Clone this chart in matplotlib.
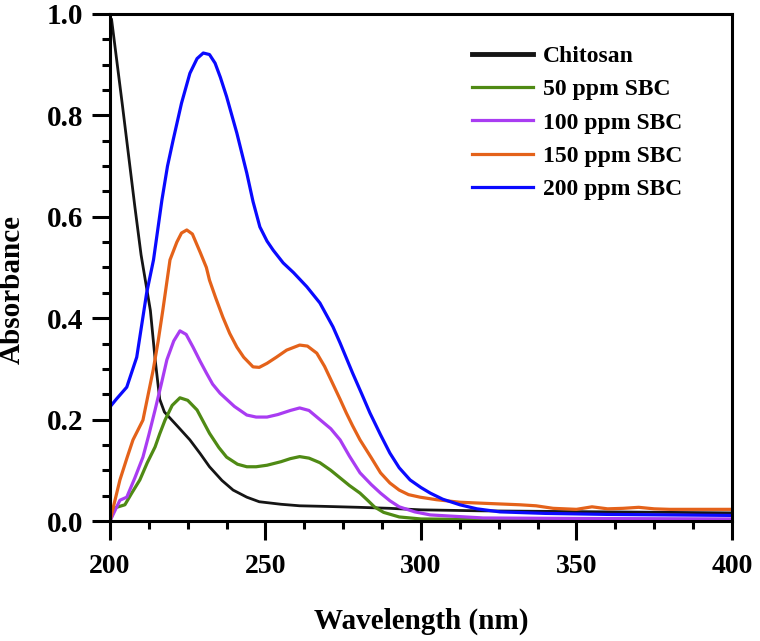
import matplotlib
matplotlib.use('Agg')
import matplotlib.pyplot as plt
from matplotlib.ticker import MultipleLocator

# --- data ---
wl_chit = [200, 200.5, 202, 204, 206, 208, 210, 211.5, 213, 214.5, 216, 217.5, 219.3, 222, 225.7,
           229, 232, 236, 239.6, 244, 248, 255, 261, 268, 280, 290, 300, 320, 340, 360, 380, 400]
A_chit = [0.99, 0.99, 0.917, 0.82, 0.72, 0.62, 0.525, 0.47, 0.415, 0.32, 0.24, 0.215, 0.203, 0.185, 0.16,
          0.133, 0.107, 0.08, 0.061, 0.047, 0.038, 0.033, 0.030, 0.029, 0.027, 0.025, 0.022, 0.020, 0.019,
          0.018, 0.017, 0.016]

wl_50 = [200, 201.6, 204.8, 207, 209.6, 212, 214.5, 216, 217.7, 220, 222.5, 225, 228, 232, 235, 237.5,
         241, 244, 247, 250.5, 255, 258, 261, 264, 267.5, 271, 274, 277, 280.4, 283, 285, 288, 293, 300,
         320, 350, 400]
A_50 = [0.0, 0.026, 0.032, 0.055, 0.081, 0.115, 0.146, 0.172, 0.199, 0.228, 0.243, 0.238, 0.219, 0.173,
        0.145, 0.126, 0.112, 0.107, 0.107, 0.110, 0.117, 0.123, 0.127, 0.124, 0.115, 0.100, 0.085, 0.070,
        0.055, 0.040, 0.028, 0.017, 0.008, 0.004, 0.003, 0.003, 0.003]

wl_100 = [200, 203.2, 205.4, 208, 210.6, 212.5, 214.5, 216.5, 218.3, 220.5, 222.5, 224.5, 226.7, 229,
          231, 233, 235.4, 240, 244, 247, 250.5, 254, 258, 261, 264, 267.5, 271, 274, 277, 280.4, 284,
          287, 290, 293, 298, 303, 320, 350, 400]
A_100 = [0.0, 0.041, 0.047, 0.085, 0.126, 0.170, 0.219, 0.270, 0.318, 0.355, 0.375, 0.368, 0.343, 0.315,
         0.292, 0.270, 0.252, 0.226, 0.209, 0.205, 0.205, 0.210, 0.218, 0.223, 0.218, 0.200, 0.182, 0.160,
         0.128, 0.095, 0.072, 0.055, 0.040, 0.028, 0.018, 0.012, 0.006, 0.005, 0.004]

wl_150 = [200, 203.2, 205.5, 207.4, 210.6, 213.9, 215.5, 217, 219.3, 221.5, 223, 224.7, 226.5, 229, 231,
          232, 234, 236.3, 238.5, 240.8, 243, 246, 248, 250.5, 253.5, 256.8, 261, 263.5, 266.5, 269,
          271.7, 274, 276, 278, 280.4, 284, 287, 290, 293, 296, 299.7, 305, 312.5, 320, 331.8, 337,
          342.5, 350, 355, 360, 365, 370, 375, 380, 390, 400]
A_150 = [0.0, 0.081, 0.125, 0.160, 0.199, 0.298, 0.355, 0.416, 0.515, 0.550, 0.568, 0.574, 0.566, 0.530,
         0.500, 0.475, 0.440, 0.402, 0.370, 0.343, 0.323, 0.304, 0.303, 0.311, 0.323, 0.337, 0.347, 0.345,
         0.331, 0.305, 0.270, 0.240, 0.213, 0.188, 0.160, 0.125, 0.095, 0.075, 0.061, 0.052, 0.047, 0.042,
         0.037, 0.035, 0.032, 0.030, 0.025, 0.023, 0.028, 0.024, 0.025, 0.027, 0.024, 0.023, 0.023, 0.023]

wl_200 = [200, 202, 205.4, 208.6, 211.8, 214, 216.7, 218.5, 220.3, 223, 225.7, 228, 230, 232, 233.8,
          235.5, 237.5, 240.8, 244, 246, 248.2, 250.5, 252.5, 255.7, 259, 263.3, 267.5, 271.7, 274, 278,
          281, 283.6, 287, 290, 293, 296.5, 300, 303, 307, 312.5, 318, 325.4, 340, 360, 380, 400]
A_200 = [0.225, 0.240, 0.264, 0.323, 0.450, 0.515, 0.633, 0.700, 0.751, 0.824, 0.883, 0.912, 0.923, 0.920,
         0.903, 0.875, 0.837, 0.765, 0.686, 0.630, 0.580, 0.552, 0.534, 0.509, 0.490, 0.462, 0.430, 0.383,
         0.351, 0.292, 0.250, 0.213, 0.170, 0.134, 0.105, 0.081, 0.066, 0.055, 0.043, 0.032, 0.024, 0.018,
         0.015, 0.013, 0.012, 0.011]

labels = ['Chitosan', '50 ppm SBC', '100 ppm SBC', '150 ppm SBC', '200 ppm SBC']
colors = ['#151515', '#4f8a14', '#a93cf2', '#e4621a', '#0a0aff']

plt.rcParams['font.family'] = 'Liberation Serif'
plt.rcParams['font.weight'] = 'bold'

fig = plt.figure(figsize=(7.6, 6.41), dpi=100)
ax = fig.add_axes([0.1447, 0.1872, 0.8184, 0.7910])

series = [(wl_chit, A_chit), (wl_50, A_50), (wl_100, A_100), (wl_150, A_150), (wl_200, A_200)]
for (xs, ys), lab, c in zip(series, labels, colors):
    lw = 2.0 if lab == 'Chitosan' else 2.3
    ax.plot(xs, ys, color=c, lw=lw, label=lab)

ax.set_xlim(200, 400)
ax.set_ylim(0, 1.0)
ax.xaxis.set_major_locator(MultipleLocator(50))
ax.xaxis.set_minor_locator(MultipleLocator(12.5))
ax.yaxis.set_major_locator(MultipleLocator(0.2))
ax.yaxis.set_minor_locator(MultipleLocator(0.05))
ax.yaxis.set_major_formatter(matplotlib.ticker.FormatStrFormatter('%.1f'))

for sp in ax.spines.values():
    sp.set_linewidth(2.2)
ax.tick_params(axis='x', which='major', direction='out', length=14, width=2.2, pad=10, labelsize=20)
ax.tick_params(axis='x', which='minor', direction='out', length=6, width=2.2)
ax.tick_params(axis='y', which='major', direction='out', length=13, width=2.2, pad=6, labelsize=21)
ax.tick_params(axis='y', which='minor', direction='out', length=6, width=2.2)

ax.set_xlabel('Wavelength (nm)', fontsize=21, fontweight='bold')
ax.set_ylabel('Absorbance', fontsize=21, fontweight='bold')
ax.xaxis.set_label_coords(0.5, -0.17)
ax.yaxis.set_label_coords(-0.135, 0.456)

leg = ax.legend(loc='upper left', bbox_to_anchor=(0.582, 0.938), frameon=False,
                fontsize=17, borderpad=0, borderaxespad=0, handlelength=2.6,
                handletextpad=0.4, labelspacing=0.5)
leg.get_lines()[0].set_linewidth(3.5)

fig.savefig('out.png', dpi=100)
